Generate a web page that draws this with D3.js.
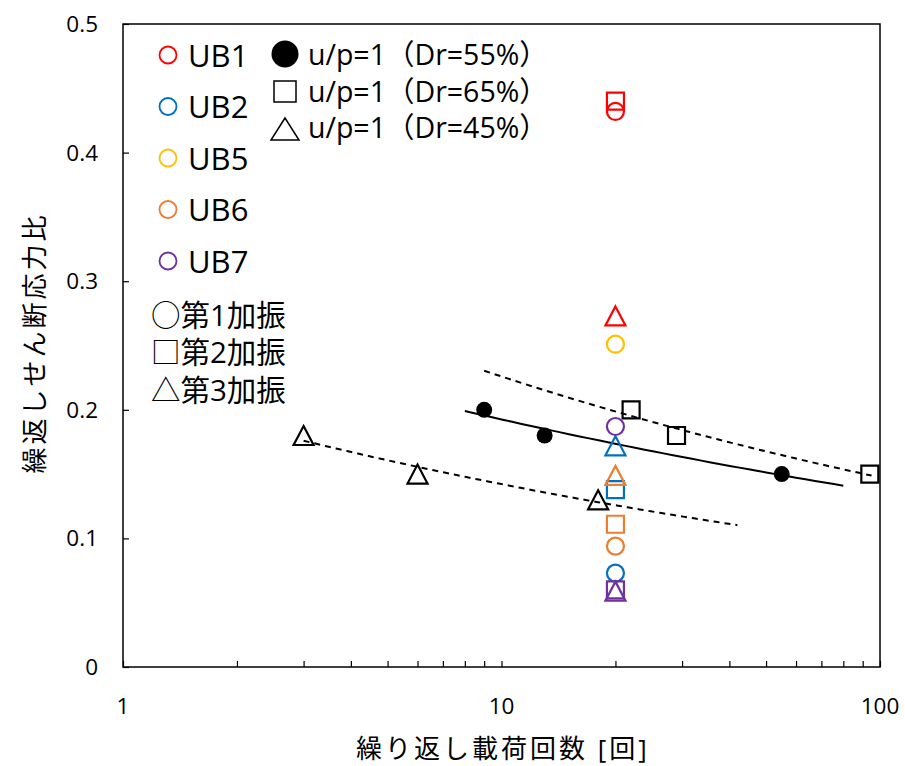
<!DOCTYPE html>
<html>
<head>
<meta charset="utf-8">
<script src="https://cdn.jsdelivr.net/npm/d3@7"></script>
<style>
  html, body { margin: 0; padding: 0; background: #fff; }
  svg text { font-family: "Open Sans", "Noto Sans CJK JP", sans-serif; fill: #000; }
</style>
</head>
<body>
<svg id="chart" width="905" height="766"></svg>
<script>
// Axis ticks
const xTicks = [1, 10, 100];
const yTicks = [0, 0.1, 0.2, 0.3, 0.4, 0.5];

// u/p=1 series: cycles to liquefaction vs. cyclic shear stress ratio
const dr55X = [9, 13, 55];
const dr55Y = [0.2, 0.18, 0.15];
const dr65X = [22, 29, 94];
const dr65Y = [0.2, 0.18, 0.15];
const dr45X = [3, 6, 18];
const dr45Y = [0.18, 0.15, 0.13];

// Power-law trend line extents (cycles)
const trend55Range = [8, 80];
const trend65Range = [9, 95];
const trend45Range = [3, 42];

// UB cases, all loaded for 20 cycles
const ubNames = ["UB1", "UB2", "UB5", "UB6", "UB7"];
const ubColors = ["#FF0000", "#0070C0", "#FFC000", "#ED7D31", "#7030A0"];
const ubCycles = 20;
const ubShake1 = [0.432, 0.073, 0.251, 0.094, 0.187];
const ubShake2 = [0.440, 0.138, null, 0.111, 0.060];
const ubShake3 = [0.273, 0.172, null, 0.149, 0.059];

const legendSeries = ["u/p=1（Dr=55%）", "u/p=1（Dr=65%）", "u/p=1（Dr=45%）"];
const shakeLabels = ["○第1加振", "□第2加振", "△第3加振"];

const svg = d3.select("#chart");
const plotL = 123, plotR = 880, plotT = 24, plotB = 667;

const x = d3.scaleLog().domain([1, 100]).range([plotL, plotR]);
const y = d3.scaleLinear().domain([0, 0.5]).range([plotB, plotT]);

// Plot frame
svg.append("rect")
  .attr("x", plotL).attr("y", plotT)
  .attr("width", plotR - plotL).attr("height", plotB - plotT)
  .attr("fill", "none").attr("stroke", "#000").attr("stroke-width", 1.5);

// Inward ticks: y major, x log minor
const yAxis = d3.axisRight(y).tickValues(yTicks).tickSize(6).tickFormat("");
svg.append("g").attr("transform", `translate(${plotL},0)`).call(yAxis)
  .call(g => g.select(".domain").remove())
  .selectAll("line").attr("stroke", "#000").attr("stroke-width", 1.2);

const xMinor = [];
for (let d = 1; d <= 100; d *= 10) for (let m = 1; m <= 9; m++) { if (d * m <= 100) xMinor.push(d * m); }
const xAxis = d3.axisTop(x).tickValues(xMinor).tickSize(6).tickFormat("");
svg.append("g").attr("transform", `translate(0,${plotB})`).call(xAxis)
  .call(g => g.select(".domain").remove())
  .selectAll("line").attr("stroke", "#000").attr("stroke-width", 1.2);

// Tick labels
svg.append("g").selectAll("text").data(yTicks).join("text")
  .attr("x", 98).attr("y", d => y(d) + 8)
  .attr("text-anchor", "end")
  .attr("font-size", 22.5)
  .text(d => d === 0 ? "0" : d3.format(".1f")(d));

svg.append("g").selectAll("text").data(xTicks).join("text")
  .attr("x", d => x(d)).attr("y", 714)
  .attr("text-anchor", "middle")
  .attr("font-size", 22.5)
  .text(d => String(d));

// Axis titles
svg.append("text").attr("x", 503).attr("y", 748)
  .attr("text-anchor", "middle").attr("dominant-baseline", "central")
  .attr("font-size", 26).attr("letter-spacing", 3)
  .text("繰り返し載荷回数 [回]");
svg.append("text")
  .attr("transform", "translate(34,343) rotate(-90)")
  .attr("text-anchor", "middle").attr("dominant-baseline", "central")
  .attr("font-size", 26).attr("letter-spacing", 3)
  .text("繰返しせん断応力比");

// Least-squares power fit y = a * x^b
function powerFit(xs, ys) {
  const lx = xs.map(Math.log), ly = ys.map(Math.log);
  const mx = d3.mean(lx), my = d3.mean(ly);
  const b = d3.sum(lx, (v, i) => (v - mx) * (ly[i] - my)) / d3.sum(lx, v => (v - mx) ** 2);
  const a = Math.exp(my - b * mx);
  return v => a * Math.pow(v, b);
}
function trendPoints(xs, ys, range) {
  const f = powerFit(xs, ys);
  const lo = Math.log(range[0]), hi = Math.log(range[1]);
  return d3.range(0, 41).map(i => {
    const v = Math.exp(lo + (hi - lo) * i / 40);
    return [v, f(v)];
  });
}
const line = d3.line().x(d => x(d[0])).y(d => y(d[1]));

svg.append("path").datum(trendPoints(dr55X, dr55Y, trend55Range))
  .attr("d", line).attr("fill", "none").attr("stroke", "#000").attr("stroke-width", 2);
svg.append("path").datum(trendPoints(dr65X, dr65Y, trend65Range))
  .attr("d", line).attr("fill", "none").attr("stroke", "#000").attr("stroke-width", 2)
  .attr("stroke-dasharray", "6,5");
svg.append("path").datum(trendPoints(dr45X, dr45Y, trend45Range))
  .attr("d", line).attr("fill", "none").attr("stroke", "#000").attr("stroke-width", 2)
  .attr("stroke-dasharray", "6,5");

// Marker shapes
const circleSym = d3.symbol().type(d3.symbolCircle).size(Math.PI * 8.5 * 8.5);
const squareSym = d3.symbol().type(d3.symbolSquare).size(17 * 17);
function triPath(s) {
  const h = s * 0.95;
  return `M0,${-h / 2}L${s / 2},${h / 2}L${-s / 2},${h / 2}Z`;
}

// u/p=1 markers
svg.append("g").selectAll("path").data(d3.zip(dr55X, dr55Y)).join("path")
  .attr("transform", d => `translate(${x(d[0])},${y(d[1])})`)
  .attr("d", d3.symbol().type(d3.symbolCircle).size(Math.PI * 8 * 8)())
  .attr("fill", "#000");
svg.append("g").selectAll("path").data(d3.zip(dr65X, dr65Y)).join("path")
  .attr("transform", d => `translate(${x(d[0])},${y(d[1])})`)
  .attr("d", squareSym()).attr("fill", "none").attr("stroke", "#000").attr("stroke-width", 2.2);
svg.append("g").selectAll("path").data(d3.zip(dr45X, dr45Y)).join("path")
  .attr("transform", d => `translate(${x(d[0])},${y(d[1])})`)
  .attr("d", triPath(20)).attr("fill", "none").attr("stroke", "#000").attr("stroke-width", 2.2);

// UB markers at 20 cycles
const ubG = svg.append("g");
ubNames.forEach((name, i) => {
  const c = ubColors[i];
  [[ubShake1[i], circleSym()], [ubShake2[i], squareSym()], [ubShake3[i], triPath(20)]].forEach(([v, p]) => {
    if (v == null) return;
    ubG.append("path")
      .attr("transform", `translate(${x(ubCycles)},${y(v)})`)
      .attr("d", p).attr("fill", "none").attr("stroke", c).attr("stroke-width", 2.2);
  });
});

// Legend: UB cases
const legUB = svg.append("g");
ubNames.forEach((name, i) => {
  const cy = 55 + i * 51.5;
  legUB.append("circle").attr("cx", 168).attr("cy", cy).attr("r", 8.5)
    .attr("fill", "none").attr("stroke", ubColors[i]).attr("stroke-width", 1.8);
  legUB.append("text").attr("x", 188).attr("y", cy + 11.5)
    .attr("font-size", 31).text(name);
});

// Legend: u/p=1 series
const legS = svg.append("g");
const rowsY = [54, 92, 129];
const rowsBase = [65, 102, 138];
legS.append("circle").attr("cx", 285).attr("cy", rowsY[0]).attr("r", 13.5).attr("fill", "#000");
legS.append("rect").attr("x", 274).attr("y", rowsY[1] - 11).attr("width", 22).attr("height", 21)
  .attr("fill", "none").attr("stroke", "#000").attr("stroke-width", 1.5);
legS.append("path").attr("transform", `translate(285,${rowsY[2]})`)
  .attr("d", "M0,-11L14,11L-14,11Z").attr("fill", "none").attr("stroke", "#000").attr("stroke-width", 1.5);
legS.selectAll("text").data(legendSeries).join("text")
  .attr("x", 308).attr("y", (d, i) => rowsBase[i])
  .attr("font-size", 28.5).text(d => d);

// Legend: shaking stage
svg.append("g").selectAll("text").data(shakeLabels).join("text")
  .attr("x", 151).attr("y", (d, i) => 314 + i * 37.5)
  .attr("dominant-baseline", "central").attr("font-size", 29.5).text(d => d);
</script>
</body>
</html>
